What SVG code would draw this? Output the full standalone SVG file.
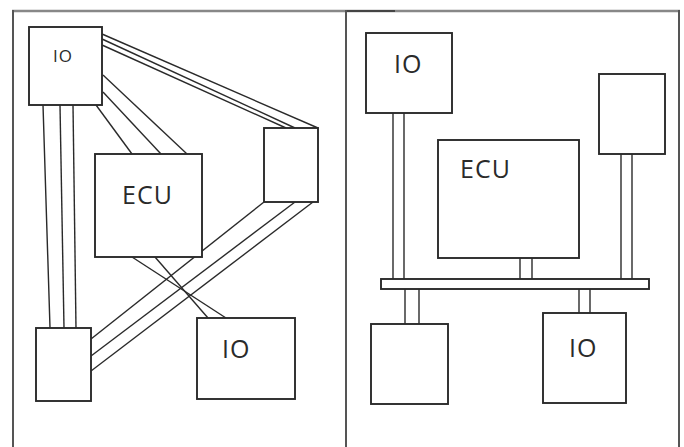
<svg xmlns="http://www.w3.org/2000/svg" width="684" height="447" viewBox="0 0 684 447">
<style>
.box{fill:#fff;stroke:#2a2a2a;stroke-width:1.9}
.ln{stroke:#2a2a2a;stroke-width:1.4;fill:none}
.frame{stroke:#555;stroke-width:2;fill:none}
.lbl{font-family:"Open Sans","Noto Sans",sans-serif;fill:#2a2a2a;letter-spacing:1px}
</style>
<rect width="684" height="447" fill="#fff"/>
<g id="frame">
<line x1="12" y1="11" x2="680" y2="11" stroke="#888" stroke-width="2.5"/>
<line x1="346" y1="11" x2="395" y2="11" stroke="#444" stroke-width="2"/>
<line class="frame" x1="13" y1="10" x2="13" y2="447" stroke="#222"/>
<line class="frame" x1="346" y1="10" x2="346" y2="447" stroke="#222"/>
<line class="frame" x1="679" y1="10" x2="679" y2="447" stroke="#333"/>
</g>
<g id="connectors">
<line class="ln" x1="43" y1="105" x2="50" y2="328"/>
<line class="ln" x1="60" y1="105" x2="64" y2="328"/>
<line class="ln" x1="73" y1="105" x2="76" y2="328"/>
<line class="ln" x1="102" y1="34" x2="318" y2="128"/>
<line class="ln" x1="102" y1="39" x2="295" y2="128"/>
<line class="ln" x1="102" y1="45" x2="286" y2="128"/>
<line class="ln" x1="103" y1="75" x2="187" y2="154"/>
<line class="ln" x1="103" y1="92" x2="161" y2="154"/>
<line class="ln" x1="96" y1="105" x2="132" y2="154"/>
<line class="ln" x1="264" y1="202" x2="91" y2="339"/>
<line class="ln" x1="295" y1="202" x2="91" y2="356"/>
<line class="ln" x1="313" y1="202" x2="91" y2="371"/>
<line class="ln" x1="132" y1="257" x2="226" y2="318"/>
<line class="ln" x1="155" y1="257" x2="208" y2="318"/>
<line class="ln" x1="393" y1="113" x2="393" y2="279"/>
<line class="ln" x1="404" y1="113" x2="404" y2="279"/>
<line class="ln" x1="621" y1="154" x2="621" y2="279"/>
<line class="ln" x1="632" y1="154" x2="632" y2="279"/>
<line class="ln" x1="520" y1="258" x2="520" y2="279"/>
<line class="ln" x1="532" y1="258" x2="532" y2="279"/>
<line class="ln" x1="405" y1="289" x2="405" y2="324"/>
<line class="ln" x1="419" y1="289" x2="419" y2="324"/>
<line class="ln" x1="579" y1="289" x2="579" y2="313"/>
<line class="ln" x1="590" y1="289" x2="590" y2="313"/>
</g>
<g id="io-left-top"><rect class="box" x="29" y="27" width="73" height="78"/><text class="lbl" x="53" y="62" font-size="17">IO</text></g>
<g id="ecu-left"><rect class="box" x="95" y="154" width="107" height="103"/><text class="lbl" x="122" y="204" font-size="25">ECU</text></g>
<g id="box-left-right"><rect class="box" x="264" y="128" width="54" height="74"/></g>
<g id="box-left-bottom"><rect class="box" x="36" y="328" width="55" height="73"/></g>
<g id="io-left-bottom"><rect class="box" x="197" y="318" width="98" height="81"/><text class="lbl" x="222" y="358" font-size="25">IO</text></g>
<g id="io-right-top"><rect class="box" x="366" y="33" width="86" height="80"/><text class="lbl" x="394" y="73" font-size="25">IO</text></g>
<g id="box-right-top"><rect class="box" x="599" y="74" width="66" height="80"/></g>
<g id="ecu-right"><rect class="box" x="438" y="140" width="141" height="118"/><text class="lbl" x="460" y="178" font-size="25">ECU</text></g>
<g id="bus"><rect class="box" x="381" y="279" width="268" height="10"/></g>
<g id="box-right-bottom"><rect class="box" x="371" y="324" width="77" height="80"/></g>
<g id="io-right-bottom"><rect class="box" x="543" y="313" width="83" height="90"/><text class="lbl" x="569" y="357" font-size="25">IO</text></g>
</svg>
